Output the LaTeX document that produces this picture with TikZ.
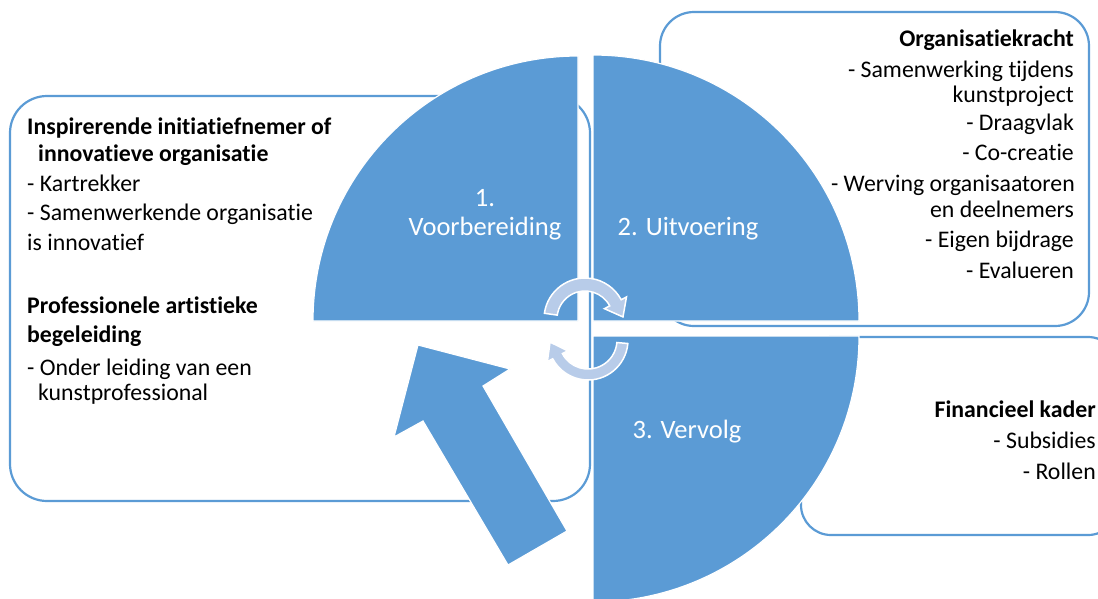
\documentclass[tikz,border=0pt]{standalone}
\usepackage{fontspec}
\setmainfont{Carlito}[Ligatures=NoCommon]
\usetikzlibrary{calc}
\definecolor{qblue}{RGB}{91,155,213}
\definecolor{lblue}{RGB}{184,204,233}
\tikzset{
  infobox/.style={draw=qblue,line width=2.2pt,fill=white},
  quad/.style={fill=qblue,draw=white,line width=1.2pt},
  bigarrow/.style={fill=qblue,draw=white,line width=1.2pt},
  cycarrow/.style={fill=lblue,draw=white,line width=1.5pt},
  tl/.style={anchor=base west,inner sep=0pt,font=\fontsize{23.8}{28}\selectfont},
  tr/.style={anchor=base east,inner sep=0pt,font=\fontsize{23.8}{28}\selectfont},
  ql/.style={anchor=base,inner sep=0pt,text=white,font=\fontsize{26.5}{32}\selectfont}
}
\begin{document}
\begin{tikzpicture}[x=1pt,y=1pt]
\useasboundingbox (0,0) rectangle (1098,-598);
% boxes
\draw[infobox,rounded corners=37pt] (10,-96) rectangle (590,-501);
\draw[infobox,rounded corners=34pt] (660,-12) rectangle (1089,-326);
\draw[infobox,rounded corners=30pt] (801,-337) rectangle (1118,-535);
% quadrants
\path[quad] (578,-321) -- (313,-321) arc[start angle=180,end angle=90,radius=265] -- cycle;
\path[quad] (593,-321) -- (593,-55) arc[start angle=90,end angle=0,radius=266] -- cycle;
\path[quad] (593,-336) -- (859,-336) arc[start angle=0,end angle=-90,radius=266] -- cycle;
% big arrow
\path[bigarrow] (418,-345) -- (510,-369) -- (483,-386) -- (567,-531) -- (508,-565) -- (423,-421) -- (394,-437) -- cycle;
% cycle arrows
\coordinate (cu) at (585,-319);
\coordinate (cl) at (588,-340);
\path[cycarrow] ($(cu)+(172:41)$) arc[start angle=172,end angle=28,radius=41]
  -- ($(cu)+(28:47)$) -- ($(cu)+(28:34.5)+(-62:16)$) -- ($(cu)+(28:22)$)
  -- ($(cu)+(28:28)$) arc[start angle=28,end angle=172,radius=28] -- cycle;
\path[cycarrow] ($(cl)+(-5:40)$) arc[start angle=-5,end angle=-152,radius=40]
  -- ($(cl)+(-152:46)$) -- ($(cl)+(-152:34.5)+(118:16)$) -- ($(cl)+(-152:23)$)
  -- ($(cl)+(-152:29)$) arc[start angle=-152,end angle=-5,radius=29] -- cycle;
% quadrant labels
\node[ql] (q1a) at (485,-206) {1.};
\node[ql] (q1b) at (485,-235) {Voorbereiding};
\node[ql] (q2) at (688,-235) {2. Uitvoering};
\node[ql] (q3) at (687,-438) {3. Vervolg};
% left box text
\node[tl] (l1) at (27,-134) {\bfseries Inspirerende initiatiefnemer of};
\node[tl] (l2) at (38,-161) {\bfseries innovatieve organisatie};
\node[tl] (l3) at (27,-191) {- Kartrekker};
\node[tl] (l4) at (27,-220) {- Samenwerkende organisatie};
\node[tl] (l5) at (27,-250) {is innovatief};
\node[tl] (l6) at (27,-313) {\bfseries Professionele artistieke};
\node[tl] (l7) at (27,-342) {\bfseries begeleiding};
\node[tl] (l8) at (27,-375) {- Onder leiding van een};
\node[tl] (l9) at (38,-400) {kunstprofessional};
% top right text
\node[tr] (r1) at (1074,-46) {\bfseries Organisatiekracht};
\node[tr] (r2) at (1074,-77) {- Samenwerking tijdens};
\node[tr] (r3) at (1074,-102) {kunstproject};
\node[tr] (r4) at (1074,-130) {- Draagvlak};
\node[tr] (r5) at (1074,-160) {- Co-creatie};
\node[tr] (r6) at (1075,-191) {- Werving organisaatoren};
\node[tr] (r7) at (1074,-217) {en deelnemers};
\node[tr] (r8) at (1074,-247) {- Eigen bijdrage};
\node[tr] (r9) at (1074,-278) {- Evalueren};
% bottom right text
\node[tr] (f1) at (1096,-417) {\bfseries Financieel kader};
\node[tr] (f2) at (1096,-448) {- Subsidies};
\node[tr] (f3) at (1096,-479) {- Rollen};
\end{tikzpicture}
\end{document}
